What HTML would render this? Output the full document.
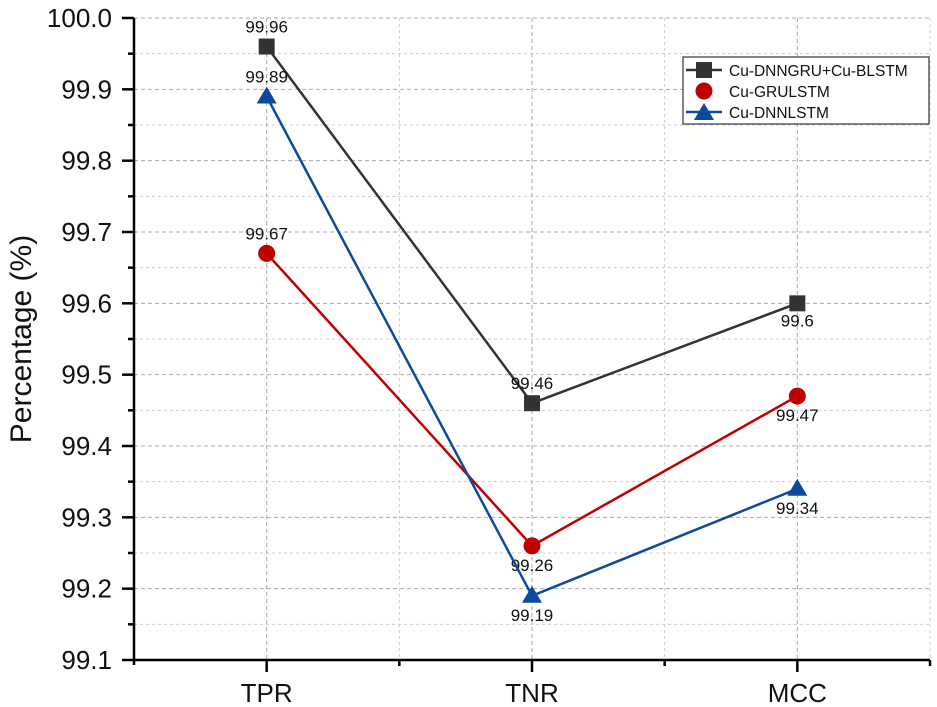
<!DOCTYPE html>
<html><head><meta charset="utf-8"><style>
html,body{margin:0;padding:0;background:#fff;}
svg{display:block;font-family:"Liberation Sans",Arial,sans-serif;}
</style></head><body>
<svg id="chart" width="937" height="707" viewBox="0 0 937 707"></svg>
<script>
const categories = ["TPR","TNR","MCC"];
const seriesNames = ["Cu-DNNGRU+Cu-BLSTM","Cu-GRULSTM","Cu-DNNLSTM"];
const s1 = [99.96, 99.46, 99.6];
const s2 = [99.67, 99.26, 99.47];
const s3 = [99.89, 99.19, 99.34];
const yTicks = [99.1,99.2,99.3,99.4,99.5,99.6,99.7,99.8,99.9,100.0];
const yTickLabels = ["99.1","99.2","99.3","99.4","99.5","99.6","99.7","99.8","99.9","100.0"];

const NS="http://www.w3.org/2000/svg";
const svg=document.getElementById('chart');
const L=134,R=930,T=18,B=660,yMin=99.1,yMax=100.0;
const step=(R-L)/3;
function x(i){return L+step*(i+0.5);}
function y(v){return B-(v-yMin)/(yMax-yMin)*(B-T);}
function el(tag,attrs,parent){const e=document.createElementNS(NS,tag);for(const k in attrs)e.setAttribute(k,attrs[k]);(parent||svg).appendChild(e);return e;}

const grid=el('g',{});


for(let i=0;i<yTicks.length;i++){
  const v=yTicks[i];
  if(i>0) el('line',{x1:L,x2:R,y1:y(v),y2:y(v),stroke:'#aaa','stroke-dasharray':'4,3','stroke-width':1},grid);
  if(i<yTicks.length-1){const m=v+0.05;el('line',{x1:L,x2:R,y1:y(m),y2:y(m),stroke:'#ccc','stroke-dasharray':'3,3','stroke-width':1},grid);}
}
for(let i=0;i<categories.length;i++){
  el('line',{x1:x(i),x2:x(i),y1:T,y2:B,stroke:'#aaa','stroke-dasharray':'4,3'},grid);
  el('line',{x1:L+step*(i+1),x2:L+step*(i+1),y1:T,y2:B,stroke:'#ccc','stroke-dasharray':'3,3'},grid);
}
const ya=el('g',{});


el('line',{x1:L,x2:L,y1:T,y2:B+5,stroke:'#000','stroke-width':2.5},ya);
for(let i=0;i<yTicks.length;i++){
  const v=yTicks[i];
  el('line',{x1:L-12,x2:L,y1:y(v),y2:y(v),stroke:'#000','stroke-width':2.5},ya);
  if(i<yTicks.length-1) el('line',{x1:L-6,x2:L,y1:y(v+0.05),y2:y(v+0.05),stroke:'#000','stroke-width':2.5},ya);
  const t=el('text',{x:L-22,y:y(v)+9,'text-anchor':'end','font-size':26,fill:'#111'},ya);t.textContent=yTickLabels[i];
  
  
}
const yt=el('text',{x:0,y:0,transform:'translate(31,339) rotate(-90)','text-anchor':'middle','font-size':30,fill:'#111'});
yt.textContent='Percentage (%)';


const xa=el('g',{});


el('line',{x1:L-1,x2:R,y1:B,y2:B,stroke:'#000','stroke-width':2.5},xa);
for(let i=0;i<categories.length;i++){
  el('line',{x1:x(i),x2:x(i),y1:B,y2:B+12,stroke:'#000','stroke-width':2.5},xa);
  el('line',{x1:L+step*(i+1),x2:L+step*(i+1),y1:B,y2:B+6,stroke:'#000','stroke-width':2.5},xa);
  const t=el('text',{x:x(i),y:B+42,'text-anchor':'middle','font-size':26,fill:'#111'},xa);t.textContent=categories[i];
  
  
}
const colors=['#333333','#c00000','#0d4a9c'];
const data=[s1,s2,s3];
const labelOff=[[-14,-14,23],[-14,25,25],[-14,25,25]];
function marker(k,cx,cy,g){
  if(k===0) return el('rect',{x:cx-8,y:cy-8,width:16,height:16,fill:colors[0]},g);
  if(k===1) return el('circle',{cx:cx,cy:cy,r:8.5,fill:colors[1]},g);
  return el('polygon',{points:`${cx},${cy-10} ${cx-10},${cy+7} ${cx+10},${cy+7}`,fill:colors[2]},g);
}
for(let k=0;k<3;k++){
  const g=el('g',{});
  
  
  const pts=data[k].map((v,i)=>x(i)+','+y(v)).join(' ');
  const pl=el('polyline',{points:pts,fill:'none',stroke:colors[k],'stroke-width':2.5},g);
  
  
  data[k].forEach((v,i)=>{
    const m=marker(k,x(i),y(v),g);
    
    
    const t=el('text',{x:x(i),y:y(v)+labelOff[k][i],'text-anchor':'middle','font-size':17,fill:'#111'},g);
    t.textContent=String(v);
    
    
  });
}
const lg=el('g',{});


el('rect',{x:683,y:57,width:246,height:67,fill:'#fff',stroke:'#333','stroke-width':1.2},lg);
for(let k=0;k<3;k++){
  const ly=70+k*21;
  const e=el('g',{},lg);
  
  
  if(k!==1) el('line',{x1:686,x2:722,y1:ly,y2:ly,stroke:colors[k],'stroke-width':2.5},e);
  marker(k,704,ly+(k===2?1:0),e);
  const t=el('text',{x:729,y:ly+6,'font-size':15.5,fill:'#111'},e);t.textContent=seriesNames[k];
}
</script>
</body></html>
